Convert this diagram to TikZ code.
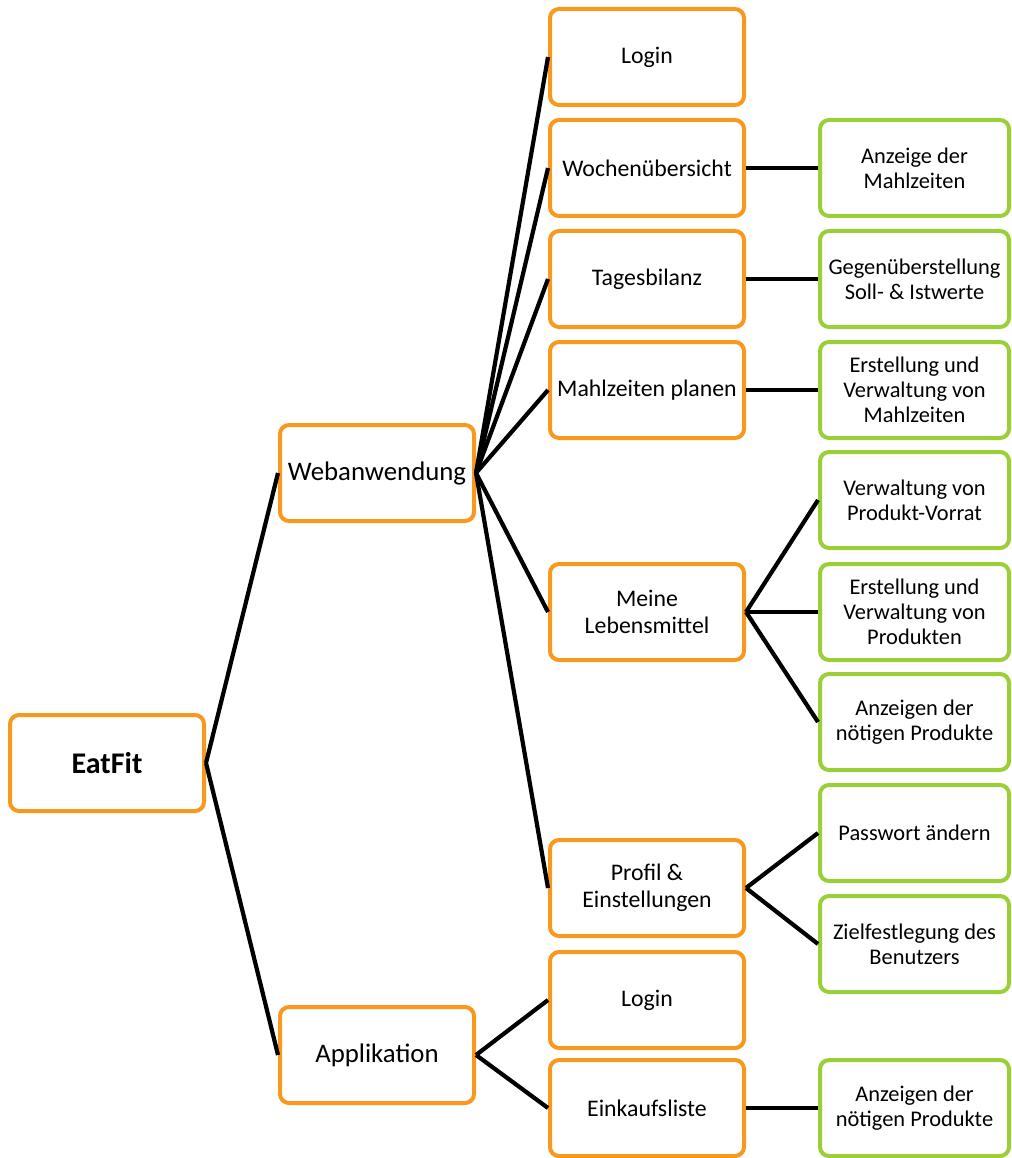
\documentclass[tikz,border=0pt]{standalone}
\usepackage{fontspec}
\setmainfont{Carlito}
\definecolor{boxorange}{RGB}{248,152,29}
\definecolor{boxgreen}{RGB}{155,207,55}
\begin{document}
\begin{tikzpicture}[x=1pt,y=-1pt,
  basebox/.style={rectangle, rounded corners=9pt, line width=4pt, minimum width=194pt, minimum height=96pt, align=center, inner sep=2pt, fill=white},
  obox/.style={basebox, draw=boxorange},
  gbox/.style={basebox, draw=boxgreen, minimum width=189pt},
  lvlone/.style={font=\fontsize{26.8}{32}\selectfont},
  lvltwo/.style={font=\fontsize{23.8}{27}\selectfont},
  lvlthree/.style={font=\fontsize{22.4}{25}\selectfont},
  conn/.style={line width=4.2pt, draw=black}]
\useasboundingbox (0,0) rectangle (1011,1158);
% root
\node[obox, font=\bfseries\fontsize{30}{35}\selectfont] (eat) at (107,763) {EatFit};
% level 1
\node[obox, lvlone] (web) at (377,473) {Webanwendung};
\node[obox, lvlone] (app) at (377,1055) {Applikation};
% level 2
\node[obox, lvltwo] (login) at (647,57) {Login};
\node[obox, lvltwo] (woche) at (647,168) {Wochenübersicht};
\node[obox, lvltwo] (tages) at (647,279) {Tagesbilanz};
\node[obox, lvltwo] (mahl) at (647,390) {Mahlzeiten planen};
\node[obox, lvltwo] (meine) at (647,612) {Meine\\Lebensmittel};
\node[obox, lvltwo] (profil) at (647,888) {Profil \&\\Einstellungen};
\node[obox, lvltwo] (login2) at (647,1000) {Login};
\node[obox, lvltwo] (einkauf) at (647,1108) {Einkaufsliste};
% level 3
\node[gbox, lvlthree] (anz) at (914.5,168) {Anzeige der\\Mahlzeiten};
\node[gbox, lvlthree] (gegen) at (914.5,279) {Gegenüberstellung\\Soll- \& Istwerte};
\node[gbox, lvlthree] (erstm) at (914.5,390) {Erstellung und\\Verwaltung von\\Mahlzeiten};
\node[gbox, lvlthree] (vorrat) at (914.5,500) {Verwaltung von\\Produkt-Vorrat};
\node[gbox, lvlthree] (erstp) at (914.5,612) {Erstellung und\\Verwaltung von\\Produkten};
\node[gbox, lvlthree] (noetig) at (914.5,722) {Anzeigen der\\nötigen Produkte};
\node[gbox, lvlthree] (pass) at (914.5,833) {Passwort ändern};
\node[gbox, lvlthree] (ziel) at (914.5,944) {Zielfestlegung des\\Benutzers};
\node[gbox, lvlthree] (noetig2) at (914.5,1108) {Anzeigen der\\nötigen Produkte};
% connectors
\draw[conn] (eat.east) -- (web.west);
\draw[conn] (eat.east) -- (app.west);
\foreach \c in {login,woche,tages,mahl,meine,profil}
  \draw[conn] (web.east) -- (\c.west);
\draw[conn] (app.east) -- (login2.west);
\draw[conn] (app.east) -- (einkauf.west);
\draw[conn] (woche.east) -- (anz.west);
\draw[conn] (tages.east) -- (gegen.west);
\draw[conn] (mahl.east) -- (erstm.west);
\draw[conn] (meine.east) -- (vorrat.west);
\draw[conn] (meine.east) -- (erstp.west);
\draw[conn] (meine.east) -- (noetig.west);
\draw[conn] (profil.east) -- (pass.west);
\draw[conn] (profil.east) -- (ziel.west);
\draw[conn] (einkauf.east) -- (noetig2.west);
\end{tikzpicture}
\end{document}
